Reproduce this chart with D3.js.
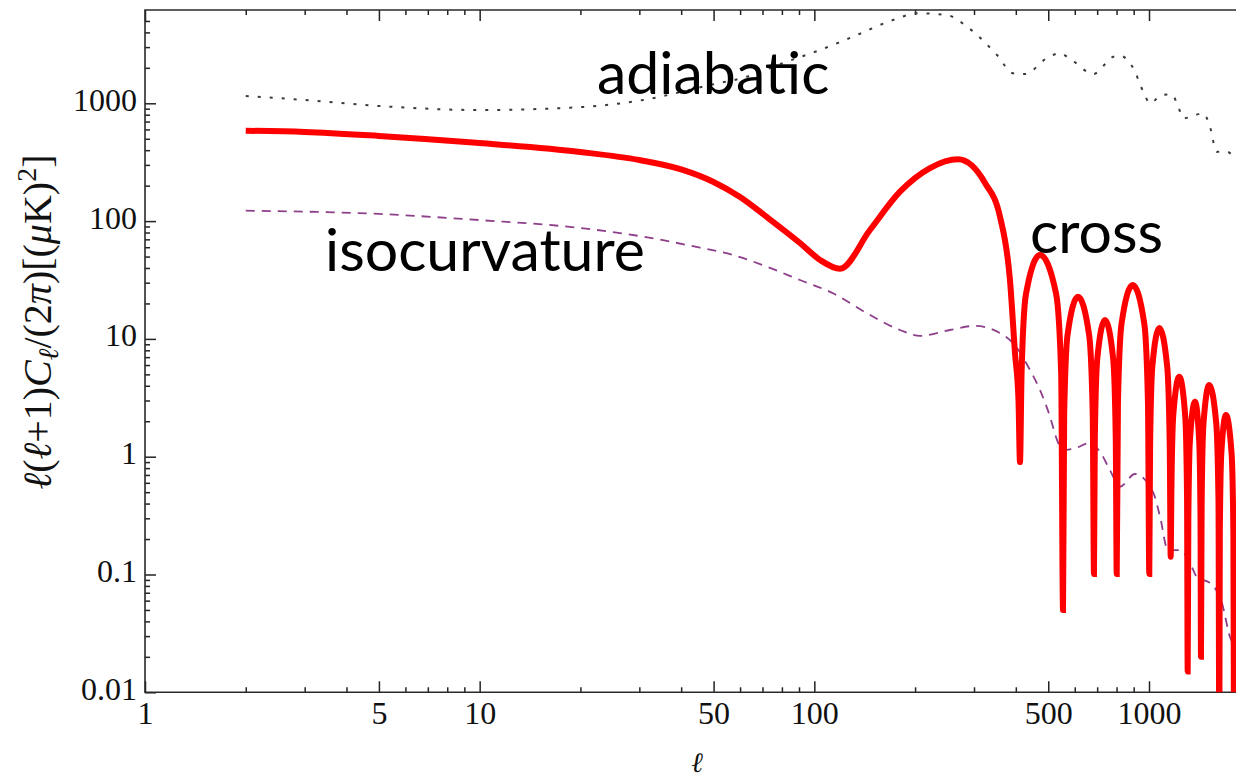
<!DOCTYPE html>
<html>
<head>
<meta charset="utf-8">
<script src="https://cdnjs.cloudflare.com/ajax/libs/d3/7.8.5/d3.min.js"></script>
<style>
  body { margin: 0; background: #fff; }
  .tick text { font-family: "Liberation Serif", "DejaVu Serif", serif; fill: #111; }
  .tick line { stroke: #222; stroke-width: 1.5; }
</style>
</head>
<body>
<div id="chart"></div>
<script>
(function(){
  var width = 1236,
    height = 782;

  // multipole ell -> l(l+1)C_l/2pi
  var adiabatic = [[2,1153],[3,1067],[5,949],[10,877],[20,928],[30.8,1067],[48.8,1430],[62.9,1682],
    [80.6,2198],[104,2835],[130.5,3677],[171.8,5095],[204,5808],[249,5617],[285.9,4470],[351.4,2570],
    [392.3,1798],[426,1773],[494.7,2410],[539.5,2658],[587.5,2331],[681.5,1773],[782.3,2486],[819,2535],
    [897.5,1982],[961.6,1254],[1007,1000],[1091,1176],[1169,1192],[1223,936],[1266,746],[1453,822],
    [1521,633],[1593,388],[1707,388],[1807,341]];

  var isocurvature = [[2,122.6],[5,115],[10,102],[20,87.4],[30,74.7],[45.5,59.5],[57.1,51.6],[72.2,41],
    [90.6,31.6],[113.7,24.4],[143.7,16.5],[180.3,11.9],[206.9,10.6],[254.4,11.9],[302,12.9],[358.7,11.2],
    [392.3,9.23],[441,5.44],[472.4,3.68],[506,2.19],[531,1.39],[553.4,1.14],[601,1.18],[666,1.31],
    [713.8,1.1],[764.4,0.77],[819,0.556],[908,0.713],[1028,0.5],[1079,0.31],[1139,0.161],[1237,0.161],
    [1326,0.125],[1391,0.095],[1521,0.0847],[1652,0.0573],[1746,0.0295],[1820,0.0238]];

  // |cross| spectrum, the spikes are the zero crossings
  var cross = [[2,585],[3,571],[5,528],[10,460],[20,386],[30,330],[40,275],[50,215],[60,160],[72.2,108],
    [90.6,65.2],[104,46.8],[119.3,39.4],[146.6,84],[180.3,177.7],[221.6,282],[268.7,334.6],[323.6,210.6],
    [358.7,109],[384.2,31.6],[397.7,7.6],[407.4,3.0],
    [411.6,0.9],[416.2,5.16],[429,24.1],[472.4,51.6],[527.8,24.1],[546.4,5.16],
    [553.4,0.05],[557.9,2.28],[570.7,10.7],[613.6,22.8],[662.6,10.7],[679,2.28],
    [684.8,0.101],[688.9,1.45],[700.6,6.78],[738.8,14.5],[781.5,6.78],[795.5,1.45],
    [800.9,0.101],[807.7,2.87],[827.7,13.4],[893.9,28.7],[968.3,13.4],[992.9,2.87],
    [1002,0.101],[1007.6,1.24],[1023,5.79],[1073.5,12.4],[1133.6,5.79],[1153.4,1.24],
    [1160.9,0.1416],[1166.3,0.478],[1181.4,2.23],[1231.6,4.78],[1282.8,2.23],[1299,0.478],
    [1305,0.015],[1310.9,0.293],[1325.2,1.37],[1372.6,2.93],[1412.4,1.37],[1425.4,0.293],
    [1430,0.02],[1436.6,0.406],[1454.5,1.9],[1513.7,4.06],[1588.8,1.9],[1613.2,0.406],
    [1622,0.003],[1627.9,0.226],[1644.4,1.06],[1698,2.26],[1765.3,1.06],[1787,0.226],
    [1795,0.003]];

  var xMajor = [1, 5, 10, 50, 100, 500, 1000];
  var yMajor = [0.01, 0.1, 1, 10, 100, 1000];
  var yMajorLabels = ["0.01", "0.1", "1", "10", "100", "1000"];

  var plotLeft = 145, plotRight = 1236, plotTop = 10, plotBottom = 692.3;

  var x = d3.scaleLog().domain([1, 1000]).range([plotLeft, 1149]);
  var y = d3.scaleLog().domain([0.01, 1000]).range([plotBottom, 103.3]);

  var svg = d3.select("#chart")
    .append("svg")
    .attr("width", width)
    .attr("height", height)
    .style("display", "block");

  svg.append("defs").append("clipPath")
    .attr("id", "plot-area")
    .append("rect")
    .attr("x", plotLeft)
    .attr("y", plotTop)
    .attr("width", plotRight - plotLeft)
    .attr("height", plotBottom - plotTop);

  // all tick values, minor ones get the short ticks
  var xAll = x.ticks();
  var xMinor = xAll.filter(function(d){ return xMajor.indexOf(d) < 0; });
  var yAll = d3.scaleLog().domain([0.01, 5000]).ticks();
  var yMinor = yAll.filter(function(d){ return yMajor.indexOf(d) < 0; });

  var axes = svg.append("g");

  function drawAxis(axis, tx, ty) {
    var g = axes.append("g")
      .attr("transform", "translate(" + tx + "," + ty + ")")
      .call(axis);
    g.select(".domain").remove();
    return g;
  }

  // bottom
  drawAxis(d3.axisBottom(x).tickValues(xMinor).tickSize(-5).tickFormat(""), 0, plotBottom);
  var xb = drawAxis(d3.axisBottom(x).tickValues(xMajor).tickSize(-11).tickPadding(9)
    .tickFormat(d3.format("d")), 0, plotBottom);
  xb.selectAll("text").attr("font-size", 32);
  // top
  drawAxis(d3.axisTop(x).tickValues(xMinor).tickSize(-5).tickFormat(""), 0, plotTop);
  drawAxis(d3.axisTop(x).tickValues(xMajor).tickSize(-11).tickFormat(""), 0, plotTop);
  // left
  drawAxis(d3.axisLeft(y).tickValues(yMinor).tickSize(-5).tickFormat(""), plotLeft, 0);
  var yl = drawAxis(d3.axisLeft(y).tickValues(yMajor).tickSize(-11).tickPadding(8)
    .tickFormat(function(d, i){ return yMajorLabels[i]; }), plotLeft, 0);
  yl.selectAll("text").attr("font-size", 32).attr("dy", "0.22em");

  // frame
  axes.append("path")
    .attr("d", "M" + plotRight + "," + plotTop + "H" + plotLeft + "V" + plotBottom + "H" + plotRight)
    .attr("fill", "none")
    .attr("stroke", "#2a2a2a")
    .attr("stroke-width", 1.6);

  var line = d3.line()
    .x(function(d){ return x(d[0]); })
    .y(function(d){ return y(d[1]); })
    .curve(d3.curveMonotoneX);

  var curves = svg.append("g").attr("clip-path", "url(#plot-area)");

  curves.append("path")
    .datum(adiabatic)
    .attr("d", line)
    .attr("fill", "none")
    .attr("stroke", "#3a3a3a")
    .attr("stroke-width", 2)
    .attr("stroke-dasharray", "3,9");

  curves.append("path")
    .datum(isocurvature)
    .attr("d", line)
    .attr("fill", "none")
    .attr("stroke", "#8e3f8a")
    .attr("stroke-width", 1.8)
    .attr("stroke-dasharray", "9,7");

  curves.append("path")
    .datum(cross)
    .attr("d", line)
    .attr("fill", "none")
    .attr("stroke", "#ff0000")
    .attr("stroke-width", 6);

  // axis titles
  svg.append("text")
    .attr("x", 697)
    .attr("y", 772)
    .attr("text-anchor", "middle")
    .attr("font-family", "Liberation Serif, DejaVu Serif, serif")
    .attr("font-style", "italic")
    .attr("font-size", 28)
    .attr("fill", "#111")
    .text("\u2113");

  var ylab = svg.append("text")
    .attr("transform", "translate(51,322) rotate(-90)")
    .attr("text-anchor", "middle")
    .attr("font-family", "Liberation Serif, DejaVu Serif, serif")
    .attr("font-size", 40)
    .attr("fill", "#111");

  var parts = [
    ["\u2113", "italic", 0, null], ["(", "normal", 0, null], ["\u2113", "italic", 0, null],
    ["+1)", "normal", 0, null], ["C", "italic", 0, null], ["\u2113", "italic", 7, 28],
    ["/(2", "normal", -7, null], ["\u03c0", "italic", 0, null], [")[(", "normal", 0, null],
    ["\u03bc", "italic", 0, null], ["K)", "normal", 0, null], ["2", "normal", -15, 28],
    ["]", "normal", 15, null]
  ];
  parts.forEach(function(p){
    ylab.append("tspan")
      .attr("font-style", p[1])
      .attr("dy", p[2])
      .attr("font-size", p[3])
      .text(p[0]);
  });

  // curve names
  var notes = [
    {text: "adiabatic", px: 597, py: 94},
    {text: "isocurvature", px: 325, py: 271},
    {text: "cross", px: 1030, py: 253}
  ];
  svg.selectAll(".note")
    .data(notes)
    .enter().append("text")
    .attr("class", "note")
    .attr("x", function(d){ return d.px; })
    .attr("y", function(d){ return d.py; })
    .attr("font-family", "Lato, 'Open Sans', sans-serif")
    .attr("font-size", 59)
    .attr("fill", "#000")
    .text(function(d){ return d.text; });

})();
</script>
</body>
</html>
